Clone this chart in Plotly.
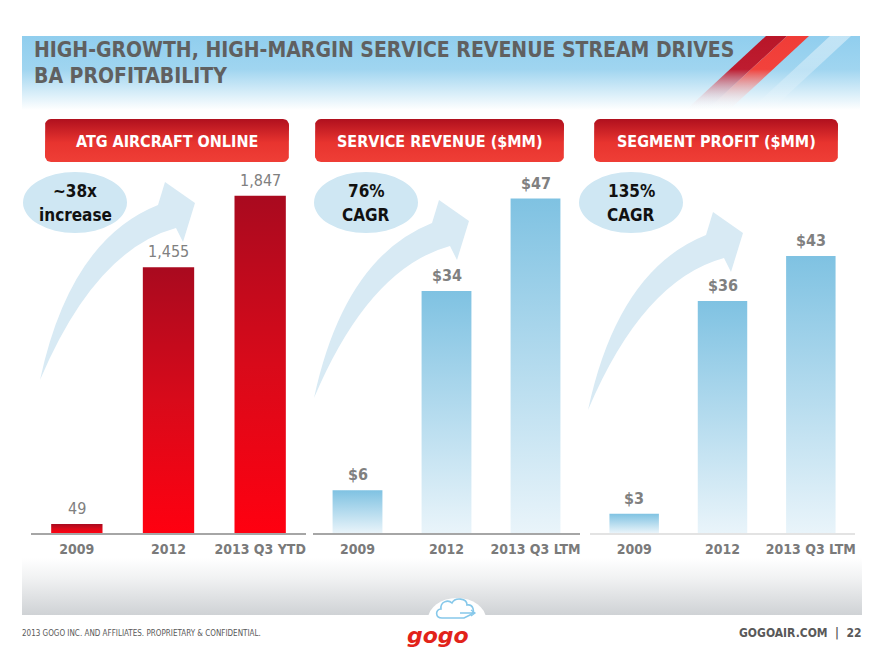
import math
import plotly.graph_objects as go

# ---------------- data ----------------
title_lines = ["HIGH-GROWTH, HIGH-MARGIN SERVICE REVENUE STREAM DRIVES", "BA PROFITABILITY"]
panel_titles = ["ATG AIRCRAFT ONLINE", "SERVICE REVENUE ($MM)", "SEGMENT PROFIT ($MM)"]
callouts = [("~38x", "increase"), ("76%", "CAGR"), ("135%", "CAGR")]
categories_atg = ["2009", "2012", "2013 Q3 YTD"]
categories_fin = ["2009", "2012", "2013 Q3 LTM"]
atg_aircraft = [49, 1455, 1847]
service_revenue = [6, 34, 47]
segment_profit = [3, 36, 43]
footer_left = "2013 GOGO INC. AND AFFILIATES. PROPRIETARY & CONFIDENTIAL."
footer_right = "GOGOAIR.COM  |  22"
logo_text = "gogo"

FONT = "Liberation Sans Narrow, Arial Narrow, DejaVu Sans Condensed, sans-serif"
W, H = 880, 660

fig = go.Figure()


def poly(xs, ys, color=None, colorscale=None, start=None, stop=None, xaxis="x", yaxis="y"):
    xs = list(xs); ys = list(ys)
    kw = dict(x=xs + [xs[0]], y=ys + [ys[0]], fill="toself", mode="lines",
              line=dict(width=0, color="rgba(0,0,0,0)"), hoverinfo="skip",
              showlegend=False, xaxis=xaxis, yaxis=yaxis)
    if colorscale is not None:
        kw["fillgradient"] = dict(type="vertical", colorscale=colorscale, start=start, stop=stop)
    else:
        kw["fillcolor"] = color
    fig.add_trace(go.Scatter(**kw))


def rounded_rect(x0, y0, x1, y1, r, n=6):
    pts = []
    corners = [(x1 - r, y0 + r, -90, 0), (x1 - r, y1 - r, 0, 90),
               (x0 + r, y1 - r, 90, 180), (x0 + r, y0 + r, 180, 270)]
    for cx, cy, a0, a1 in corners:
        for j in range(n + 1):
            a = math.radians(a0 + (a1 - a0) * j / n)
            pts.append((cx + r * math.cos(a), cy + r * math.sin(a)))
    xs, ys = zip(*pts)
    return xs, ys


# ---------------- background decoration (pixel axis x/y) ----------------
# header band
poly([22, 860, 860, 22], [36, 36, 110, 110],
     colorscale=[[0, "#90CEEE"], [0.45, "#A0D5F0"], [1, "#FFFFFF"]], start=36, stop=110)
# diagonal stripes
poly([830, 851, 771, 750], [36, 36, 110, 110],
     colorscale=[[0, "rgba(255,255,255,0.45)"], [0.4, "rgba(255,255,255,0.35)"], [1, "rgba(255,255,255,0)"]],
     start=36, stop=110)
poly([766, 787, 707, 686], [36, 36, 110, 110],
     colorscale=[[0, "rgba(184,22,40,1)"], [0.45, "rgba(190,28,48,1)"], [1, "rgba(255,255,255,0)"]],
     start=36, stop=110)
poly([787, 809, 729, 707], [36, 36, 110, 110],
     colorscale=[[0, "rgba(240,60,55,1)"], [0.45, "rgba(242,66,60,1)"], [1, "rgba(255,255,255,0)"]],
     start=36, stop=110)
# footer band
poly([22, 862, 862, 22], [558, 558, 615, 615],
     colorscale=[[0, "#FFFFFF"], [0.35, "#F1F2F3"], [1, "#CFD2D5"]], start=558, stop=615)
# panel title boxes
box_x = [(45, 289), (315, 564), (594, 838)]
for (bx0, bx1) in box_x:
    xs, ys = rounded_rect(bx0, 119, bx1, 162, 6)
    poly(xs, ys, colorscale=[[0, "#B0101E"], [0.55, "#E8342F"], [1, "#EF3E36"]], start=119, stop=162)

# ---------------- bars (panel axes) ----------------
panels = [(categories_atg, atg_aircraft, [f"{v:,}" for v in atg_aircraft],
           [[0, "#FF0010"], [0.5, "#D80A1A"], [1, "#A90A1F"]], "normal"),
          (categories_fin, service_revenue, [f"${v}" for v in service_revenue],
           [[0, "#E9F4FA"], [1, "#7FC2E2"]], "bold"),
          (categories_fin, segment_profit, [f"${v}" for v in segment_profit],
           [[0, "#E9F4FA"], [1, "#7FC2E2"]], "bold")]
half_w = 0.28
annotations = []
for i, (cats, vals, labels, cs, wt) in enumerate(panels):
    xa, ya = f"x{i + 2}", f"y{i + 2}"
    for k, v in enumerate(vals):
        poly([k - half_w, k - half_w, k + half_w, k + half_w], [0, v, v, 0],
             colorscale=cs, start=0, stop=v, xaxis=xa, yaxis=ya)
        annotations.append(dict(x=k, y=v, xref=xa, yref=ya, text=labels[k], showarrow=False,
                                yanchor="bottom", yshift=4,
                                font=dict(family=FONT, size=16, color="#808080", weight=wt)))

# ---------------- text ----------------
for j, line in enumerate(title_lines):
    annotations.append(dict(x=32, y=50 + 26 * j, xref="x", yref="y", text=line, showarrow=False,
                            xanchor="left", yanchor="middle",
                            font=dict(family=FONT, size=21, color="#606060", weight="bold")))
for (bx0, bx1), t in zip(box_x, panel_titles):
    annotations.append(dict(x=(bx0 + bx1) / 2, y=141, xref="x", yref="y", text=t, showarrow=False,
                            xanchor="center", yanchor="middle",
                            font=dict(family=FONT, size=16, color="#FFFFFF", weight="bold")))
ell_cx = [75, 366, 631]
for cx, (a, b) in zip(ell_cx, callouts):
    for j, t in enumerate((a, b)):
        annotations.append(dict(x=cx, y=191 + 24 * j, xref="x", yref="y", text=t, showarrow=False,
                                xanchor="center", yanchor="middle",
                                font=dict(family=FONT, size=17, color="#111111", weight="bold")))
annotations.append(dict(x=20, y=633, xref="x", yref="y", text=footer_left, showarrow=False,
                        xanchor="left", yanchor="middle",
                        font=dict(family=FONT, size=8, color="#5A5A5A")))
annotations.append(dict(x=864, y=633, xref="x", yref="y", text=footer_right, showarrow=False,
                        xanchor="right", yanchor="middle",
                        font=dict(family=FONT, size=12, color="#595959", weight="bold")))
annotations.append(dict(x=438, y=635, xref="x", yref="y", text=logo_text, showarrow=False,
                        xanchor="center", yanchor="middle",
                        font=dict(family="DejaVu Sans, sans-serif", size=22, color="#E2231A",
                                  weight="bold", style="italic")))

# ---------------- shapes ----------------
shapes = []
arrow_offsets = [(0, 0), (274, 18), (548, 30)]
for dx, dy in arrow_offsets:
    def p(x, y):
        return f"{x + dx},{y + dy}"
    path = (f"M{p(40,380)} Q{p(70,240)} {p(158,205)} L{p(165,182)} L{p(195,203)} "
            f"L{p(183,242)} L{p(176,228)} Q{p(95,250)} {p(40,380)} Z")
    shapes.append(dict(type="path", path=path, xref="x", yref="y", fillcolor="#D8EAF4",
                       line=dict(width=0), layer="below"))
for cx in ell_cx:
    shapes.append(dict(type="circle", xref="x", yref="y", x0=cx - 52, x1=cx + 52, y0=172, y1=233,
                       fillcolor="#CFE7F3", line=dict(width=0), layer="below"))
# cloud logo
shapes.append(dict(type="circle", xref="x", yref="y", x0=428, x1=486, y0=598, y1=640,
                   fillcolor="#FFFFFF", line=dict(width=0), layer="above"))
shapes.append(dict(type="path", xref="x", yref="y",
                   path="M442,618 C435,618 435,609 441,609 C440,602 448,599 452,603 "
                        "C455,597 467,598 467,605 C473,604 476,612 470,615 L464,618 Z",
                   fillcolor="#FFFFFF", line=dict(color="#86C8EA", width=1.6), layer="above"))
shapes.append(dict(type="path", xref="x", yref="y", path="M460,613 L475,613 M471,610 L475,613 L471,616",
                   line=dict(color="#86C8EA", width=1.3), layer="above"))

# ---------------- layout ----------------
y_bottom = 533
y_top = 180
ydom = [1 - y_bottom / H, 1 - y_top / H]
xdoms = [(31, 306), (313, 580), (590, 855)]
yranges = [1933, 49.6, 54.8]
line_colors = ["#A6A6A6", "#A6A6A6", "#E3E3E3"]

layout = dict(
    width=W, height=H, margin=dict(l=0, r=0, t=0, b=0),
    paper_bgcolor="#FFFFFF", plot_bgcolor="rgba(0,0,0,0)",
    showlegend=False,
    xaxis=dict(domain=[0, 1], range=[0, W], visible=False, fixedrange=True),
    yaxis=dict(domain=[0, 1], range=[H, 0], visible=False, fixedrange=True),
    annotations=annotations, shapes=shapes,
)
for i, ((x0, x1), cats) in enumerate(zip(xdoms, [categories_atg, categories_fin, categories_fin])):
    layout[f"xaxis{i + 2}"] = dict(domain=[x0 / W, x1 / W], range=[-0.5, 2.5], anchor=f"y{i + 2}",
                                   tickvals=list(range(len(cats))), ticktext=cats,
                                   showline=True, linecolor=line_colors[i], linewidth=2,
                                   showgrid=False, zeroline=False, ticks="outside", ticklen=2,
                                   tickcolor="rgba(0,0,0,0)", fixedrange=True,
                                   tickfont=dict(family=FONT, size=14, color="#7A7A7A", weight="bold"))
    layout[f"yaxis{i + 2}"] = dict(domain=ydom, range=[0, yranges[i]], anchor=f"x{i + 2}",
                                   visible=False, fixedrange=True)
fig.update_layout(**layout)
fig.write_html("out.html")
